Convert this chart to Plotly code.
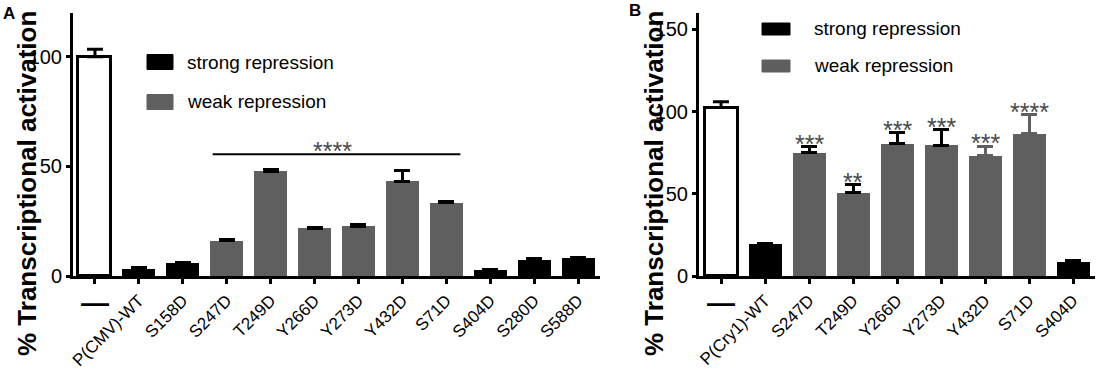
import plotly.graph_objects as go

# ---------------- data ----------------
a_categories = ["—", "P(CMV)-WT", "S158D", "S247D", "T249D", "Y266D",
                "Y273D", "Y432D", "S71D", "S404D", "S280D", "S588D"]
a_values = [100, 3.4, 6.0, 16.0, 47.8, 21.8, 22.6, 43.2, 33.4, 2.6, 7.5, 8.3]
a_errors = [3.5, 0.3, 0.3, 0.7, 0.8, 0.4, 1.0, 5.0, 0.4, 0.3, 0.3, 0.3]
a_groups = ["ctrl", "strong", "strong", "weak", "weak", "weak", "weak",
            "weak", "weak", "strong", "strong", "strong"]
a_bracket_from, a_bracket_to, a_bracket_level = "S247D", "S71D", 55.5
a_bracket_label = "****"

b_categories = ["—", "P(Cry1)-WT", "S247D", "T249D", "Y266D", "Y273D",
                "Y432D", "S71D", "S404D"]
b_values = [102.5, 19.5, 75.0, 50.5, 80.5, 79.5, 73.3, 86.5, 8.3]
b_errors = [3.5, 0.3, 3.5, 5.0, 6.5, 9.5, 5.5, 11.5, 1.2]
b_groups = ["ctrl", "strong", "weak", "weak", "weak", "weak", "weak", "weak", "strong"]
b_stars = ["", "", "***", "**", "***", "***", "***", "****", ""]

legend_labels = ["strong repression", "weak repression"]
y_title = "% Transcriptional activation"

# ---------------- style ----------------
W, H = 1098, 369
FONT = "Liberation Sans, Arial, sans-serif"
BLACK, GREY, STARGREY = "#000000", "#5f5f5f", "#4a4a4a"
fill = {"ctrl": "white", "strong": BLACK, "weak": GREY}
grey_err_b = {"Y432D", "S71D"}

def px(x):
    return x / W

def py(y):
    return 1 - y / H

fig = go.Figure()

def add_panel(cats, vals, errs, groups, xa, ya, err_grey=set()):
    buckets = {}
    for i in range(len(cats)):
        g = groups[i]
        ec = GREY if cats[i] in err_grey else BLACK
        buckets.setdefault((g, ec), []).append(i)
    for (g, ec), ii in buckets.items():
        fig.add_trace(go.Bar(
            x=ii, y=[vals[i] for i in ii],
            width=0.75,
            marker=dict(color=fill[g],
                        line=dict(color=BLACK if g == "ctrl" else fill[g],
                                  width=3 if g == "ctrl" else 0)),
            error_y=dict(type="data", symmetric=False,
                         array=[errs[i] for i in ii],
                         arrayminus=[0 for _ in ii],
                         color=ec, thickness=3, width=8),
            xaxis=xa, yaxis=ya, showlegend=False, hoverinfo="skip"))

add_panel(a_categories, a_values, a_errors, a_groups, "x", "y")
add_panel(b_categories, b_values, b_errors, b_groups, "x2", "y2", grey_err_b)

ydom = [py(276), py(13)]
axis_common = dict(showline=True, linewidth=3, linecolor=BLACK, ticks="outside",
                   tickwidth=3, ticklen=5, tickcolor=BLACK, showgrid=False,
                   zeroline=False, automargin=False,
                   tickfont=dict(family=FONT, size=17, color=BLACK))
yfont = dict(family=FONT, size=20, color=BLACK)
fig.update_layout(
    width=W, height=H, autosize=False,
    margin=dict(l=0, r=0, t=0, b=0),
    paper_bgcolor="white", plot_bgcolor="white",
    bargap=0,
    xaxis=dict(domain=[px(73), px(600)], range=[-0.5, len(a_categories) - 0.5],
               tickmode="array", tickvals=list(range(len(a_categories))),
               ticktext=[""] + a_categories[1:], tickangle=-45, anchor="y",
               **axis_common),
    yaxis=dict(domain=ydom, range=[0, 120], tickvals=[0, 50, 100], anchor="x",
               **{**axis_common, "ticklen": 4, "tickfont": yfont}),
    xaxis2=dict(domain=[px(699), px(1095)], range=[-0.5, len(b_categories) - 0.5],
                tickmode="array", tickvals=list(range(len(b_categories))),
                ticktext=[""] + b_categories[1:], tickangle=-45, anchor="y2",
                **axis_common),
    yaxis2=dict(domain=ydom, range=[0, 160], tickvals=[0, 50, 100, 150], anchor="x2",
                **{**axis_common, "ticklen": 4, "tickfont": yfont}),
)

ann = []
shapes = []
# y-axis titles
for xc in (27, 654):
    ann.append(dict(text=f"<b>{y_title}</b>", x=px(xc), y=py(184), xref="paper", yref="paper",
                    xanchor="center", yanchor="middle", textangle=-90, showarrow=False,
                    font=dict(family=FONT, size=26, color=BLACK)))
# panel letters
ann.append(dict(text="<b>A</b>", x=px(1), y=py(2), xref="paper", yref="paper", xanchor="left",
                yanchor="top", showarrow=False, font=dict(family=FONT, size=17, color=BLACK)))
ann.append(dict(text="<b>B</b>", x=px(627), y=py(-1), xref="paper", yref="paper", xanchor="left",
                yanchor="top", showarrow=False, font=dict(family=FONT, size=17, color=BLACK)))
# dash tick label for first category
for xr in ("x", "x2"):
    ann.append(dict(text="<b>—</b>", x=0, y=py(285), xref=xr, yref="paper",
                    xanchor="center", yanchor="top", showarrow=False,
                    font=dict(family=FONT, size=28, color=BLACK)))
# legends
def legend(x0, y_rows, tx, boxw, boxh):
    for (yc, lab, col) in zip(y_rows, legend_labels, (BLACK, GREY)):
        shapes.append(dict(type="rect", xref="paper", yref="paper",
                           x0=px(x0), x1=px(x0 + boxw), y0=py(yc - boxh / 2), y1=py(yc + boxh / 2),
                           fillcolor=col, line=dict(color=col, width=1)))
        ann.append(dict(text=lab, x=px(tx), y=py(yc), xref="paper", yref="paper",
                        xanchor="left", yanchor="middle", showarrow=False,
                        font=dict(family=FONT, size=19, color=BLACK)))
legend(147, (62, 102), 185, 26, 15)
legend(762, (29, 66), 812, 28, 12)

# significance bracket in A
xa0 = a_categories.index(a_bracket_from) - 0.32
xa1 = a_categories.index(a_bracket_to) + 0.32
shapes.append(dict(type="line", xref="x", yref="y", x0=xa0, x1=xa1,
                   y0=a_bracket_level, y1=a_bracket_level, line=dict(color=BLACK, width=2)))
ann.append(dict(text=a_bracket_label, x=(xa0 + xa1) / 2 - 0.1, y=a_bracket_level, xref="x", yref="y",
                xanchor="center", yanchor="bottom", yshift=-13, showarrow=False,
                font=dict(family=FONT, size=25, color=STARGREY)))
# stars in B
for i, s in enumerate(b_stars):
    if s:
        ann.append(dict(text=s, x=i, y=b_values[i] + b_errors[i], xref="x2", yref="y2",
                        xanchor="center", yanchor="bottom", yshift=-13, showarrow=False,
                        font=dict(family=FONT, size=25, color=STARGREY)))

fig.update_layout(annotations=ann, shapes=shapes)
fig.write_html("out.html", config={"displayModeBar": False},
               post_script="document.body.style.margin='0';document.body.style.overflow='hidden';")
